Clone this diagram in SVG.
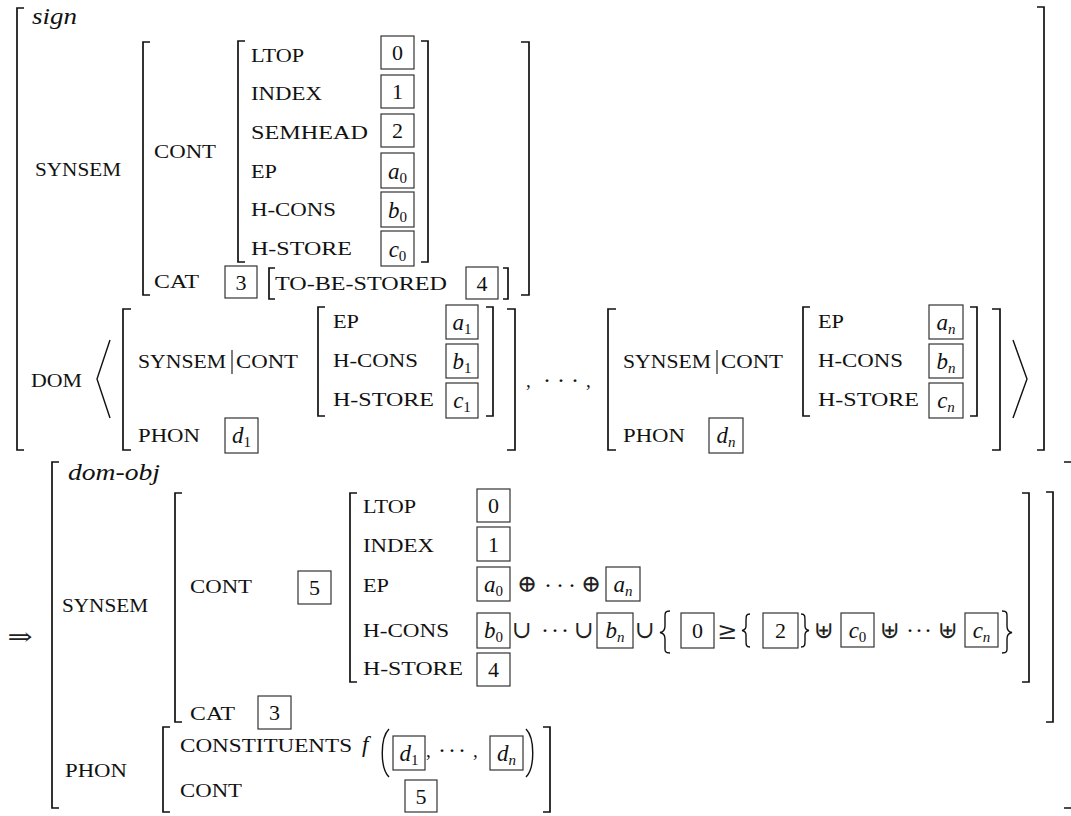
<svg xmlns="http://www.w3.org/2000/svg" width="1071" height="816" viewBox="0 0 1071 816" font-family="'Liberation Serif','Times New Roman','DejaVu Serif',serif">
<style>
.br{fill:none;stroke:#111;stroke-width:1.7}
.dl{fill:none;stroke:#111;stroke-width:1.4}
.bx{fill:none;stroke:#333;stroke-width:1.2}
.lb{font-family:'Liberation Serif','Times New Roman','DejaVu Serif',serif;font-size:19px;fill:#111}
.nm{font-family:'Liberation Serif','Times New Roman','DejaVu Serif',serif;font-size:22px;fill:#111;text-anchor:middle}
.vr{font-family:'Liberation Serif','Times New Roman','DejaVu Serif',serif;font-size:23px;font-style:italic;fill:#111;text-anchor:middle}
.sb{font-size:15px;font-style:normal}
.sbi{font-size:15px;font-style:italic}
.it{font-family:'Liberation Serif','Times New Roman','DejaVu Serif',serif;font-size:23px;font-style:italic;fill:#111}
.op{font-family:'DejaVu Serif','DejaVu Sans',serif;font-size:24px;fill:#222;text-anchor:middle}
.dt{font-family:'Liberation Serif','Times New Roman',serif;font-size:24px;fill:#111;text-anchor:middle}
</style>
<rect width="1071" height="816" fill="#fff"/>

<g id="top-avm">
  <path class="br" d="M24 8H17V450H24"/>
  <path class="br" d="M1037 7H1044V450H1037"/>
  <text class="it" x="32" y="24" textLength="45" lengthAdjust="spacingAndGlyphs">sign</text>
  <text class="lb" x="35" y="176" textLength="86" lengthAdjust="spacingAndGlyphs">SYNSEM</text>

  <g id="top-synsem">
    <path class="br" d="M150 42H143V295H150"/>
    <path class="br" d="M521 42H529V295H521"/>
    <text class="lb" x="154" y="158" textLength="62" lengthAdjust="spacingAndGlyphs">CONT</text>
    <g id="top-cont">
      <path class="br" d="M245 41H238V262H245"/>
      <path class="br" d="M421 41H428V262H421"/>
      <text class="lb" x="251" y="62" textLength="53" lengthAdjust="spacingAndGlyphs">LTOP</text>
      <text class="lb" x="251" y="100" textLength="71" lengthAdjust="spacingAndGlyphs">INDEX</text>
      <text class="lb" x="251" y="139" textLength="117" lengthAdjust="spacingAndGlyphs">SEMHEAD</text>
      <text class="lb" x="251" y="178" textLength="26" lengthAdjust="spacingAndGlyphs">EP</text>
      <text class="lb" x="251" y="216" textLength="85" lengthAdjust="spacingAndGlyphs">H-CONS</text>
      <text class="lb" x="251" y="255" textLength="101" lengthAdjust="spacingAndGlyphs">H-STORE</text>
      <rect class="bx" x="381" y="36" width="33" height="33"/><text class="nm" x="397.5" y="60">0</text>
      <rect class="bx" x="381" y="75" width="33" height="33"/><text class="nm" x="397.5" y="99">1</text>
      <rect class="bx" x="381" y="114" width="33" height="33"/><text class="nm" x="397.5" y="138">2</text>
      <rect class="bx" x="381" y="153" width="33" height="35"/><text class="vr" x="397.5" y="179">a<tspan class="sb" dy="4">0</tspan></text>
      <rect class="bx" x="381" y="192" width="33" height="35"/><text class="vr" x="397.5" y="218">b<tspan class="sb" dy="4">0</tspan></text>
      <rect class="bx" x="381" y="231" width="33" height="35"/><text class="vr" x="397.5" y="257">c<tspan class="sb" dy="4">0</tspan></text>
    </g>
    <text class="lb" x="154" y="288" textLength="45" lengthAdjust="spacingAndGlyphs">CAT</text>
    <rect class="bx" x="225" y="266" width="32" height="32"/><text class="nm" x="241" y="289.5">3</text>
    <path class="br" d="M275 268H269V299H275"/>
    <text class="lb" x="275" y="290" textLength="172" lengthAdjust="spacingAndGlyphs">TO-BE-STORED</text>
    <rect class="bx" x="466" y="267" width="32" height="32"/><text class="nm" x="482" y="290.5">4</text>
    <path class="br" d="M503 268H508V299H503"/>
  </g>

  <text class="lb" x="31" y="387" textLength="51" lengthAdjust="spacingAndGlyphs">DOM</text>
  <path class="dl" d="M110 340L97 379L110 418"/>
  <g id="dom-item-1">
    <path class="br" d="M131 309H123V450H131"/>
    <path class="br" d="M507 309H515V450H507"/>
    <text class="lb" x="138" y="368" textLength="88" lengthAdjust="spacingAndGlyphs">SYNSEM</text>
    <line x1="232" y1="350" x2="232" y2="374" stroke="#111" stroke-width="1.1"/>
    <text class="lb" x="236" y="368" textLength="62" lengthAdjust="spacingAndGlyphs">CONT</text>
    <path class="br" d="M325 307H318V416H325"/>
    <path class="br" d="M486 307H493V416H486"/>
    <text class="lb" x="333" y="328" textLength="26" lengthAdjust="spacingAndGlyphs">EP</text>
    <text class="lb" x="333" y="367" textLength="85" lengthAdjust="spacingAndGlyphs">H-CONS</text>
    <text class="lb" x="333" y="406" textLength="101" lengthAdjust="spacingAndGlyphs">H-STORE</text>
    <rect class="bx" x="446" y="305" width="32" height="34"/><text class="vr" x="462" y="330">a<tspan class="sb" dy="4">1</tspan></text>
    <rect class="bx" x="446" y="344" width="32" height="34"/><text class="vr" x="462" y="369">b<tspan class="sb" dy="4">1</tspan></text>
    <rect class="bx" x="446" y="383" width="32" height="35"/><text class="vr" x="462" y="408">c<tspan class="sb" dy="4">1</tspan></text>
    <text class="lb" x="138" y="442" textLength="62" lengthAdjust="spacingAndGlyphs">PHON</text>
    <rect class="bx" x="225" y="418" width="33" height="35"/><text class="vr" x="241.5" y="443">d<tspan class="sb" dy="4">1</tspan></text>
  </g>
  <text class="lb" x="526" y="387">,</text>
  <text class="dt" x="561" y="388" textLength="36" lengthAdjust="spacing">· · ·</text>
  <text class="lb" x="586" y="387">,</text>
  <g id="dom-item-n">
    <path class="br" d="M616 309H608V450H616"/>
    <path class="br" d="M992 309H1000V450H992"/>
    <text class="lb" x="623" y="368" textLength="88" lengthAdjust="spacingAndGlyphs">SYNSEM</text>
    <line x1="717" y1="350" x2="717" y2="374" stroke="#111" stroke-width="1.1"/>
    <text class="lb" x="721" y="368" textLength="62" lengthAdjust="spacingAndGlyphs">CONT</text>
    <path class="br" d="M810 307H803V416H810"/>
    <path class="br" d="M970 307H977V416H970"/>
    <text class="lb" x="818" y="328" textLength="26" lengthAdjust="spacingAndGlyphs">EP</text>
    <text class="lb" x="818" y="367" textLength="85" lengthAdjust="spacingAndGlyphs">H-CONS</text>
    <text class="lb" x="818" y="406" textLength="101" lengthAdjust="spacingAndGlyphs">H-STORE</text>
    <rect class="bx" x="929" y="305" width="34" height="34"/><text class="vr" x="946" y="330">a<tspan class="sbi" dy="4">n</tspan></text>
    <rect class="bx" x="929" y="344" width="34" height="34"/><text class="vr" x="946" y="369">b<tspan class="sbi" dy="4">n</tspan></text>
    <rect class="bx" x="929" y="383" width="34" height="35"/><text class="vr" x="946" y="408">c<tspan class="sbi" dy="4">n</tspan></text>
    <text class="lb" x="623" y="442" textLength="62" lengthAdjust="spacingAndGlyphs">PHON</text>
    <rect class="bx" x="709" y="418" width="34" height="35"/><text class="vr" x="726" y="443">d<tspan class="sbi" dy="4">n</tspan></text>
  </g>
  <path class="dl" d="M1013 340L1027 379L1013 418"/>
</g>

<text class="op" x="20" y="645" textLength="25" lengthAdjust="spacingAndGlyphs">⇒</text>

<g id="bottom-avm">
  <path class="br" d="M59 462H52V808H59"/>
  <path class="br" d="M1064 462H1072V808H1064"/>
  <text class="it" x="68" y="480" textLength="92" lengthAdjust="spacingAndGlyphs">dom-obj</text>
  <text class="lb" x="62" y="612" textLength="86" lengthAdjust="spacingAndGlyphs">SYNSEM</text>
  <g id="bottom-synsem">
    <path class="br" d="M182 493H175V722H182"/>
    <path class="br" d="M1046 492H1053V722H1046"/>
    <text class="lb" x="190" y="593" textLength="62" lengthAdjust="spacingAndGlyphs">CONT</text>
    <rect class="bx" x="298" y="571" width="33" height="33"/><text class="nm" x="314.5" y="595">5</text>
    <g id="bottom-cont">
      <path class="br" d="M357 493H350V682H357"/>
      <path class="br" d="M1022 493H1029V682H1022"/>
      <text class="lb" x="363" y="513" textLength="53" lengthAdjust="spacingAndGlyphs">LTOP</text>
      <text class="lb" x="363" y="552" textLength="71" lengthAdjust="spacingAndGlyphs">INDEX</text>
      <text class="lb" x="363" y="592" textLength="26" lengthAdjust="spacingAndGlyphs">EP</text>
      <text class="lb" x="363" y="637" textLength="86" lengthAdjust="spacingAndGlyphs">H-CONS</text>
      <text class="lb" x="363" y="675" textLength="100" lengthAdjust="spacingAndGlyphs">H-STORE</text>
      <rect class="bx" x="477" y="489" width="33" height="33"/><text class="nm" x="493.5" y="513">0</text>
      <rect class="bx" x="477" y="527" width="33" height="34"/><text class="nm" x="493.5" y="551.5">1</text>
      <rect class="bx" x="477" y="567" width="33" height="34"/><text class="vr" x="493.5" y="592">a<tspan class="sb" dy="4">0</tspan></text>
      <text class="op" x="527" y="592">⊕</text>
      <text class="dt" x="560" y="593" textLength="32" lengthAdjust="spacing">· · ·</text>
      <text class="op" x="591" y="592">⊕</text>
      <rect class="bx" x="606" y="567" width="34" height="34"/><text class="vr" x="623" y="592">a<tspan class="sbi" dy="4">n</tspan></text>
      <rect class="bx" x="477" y="613" width="33" height="35"/><text class="vr" x="493.5" y="638">b<tspan class="sb" dy="4">0</tspan></text>
      <text class="op" x="522" y="638">∪</text>
      <text class="dt" x="555" y="638" textLength="28" lengthAdjust="spacing">· · ·</text>
      <text class="op" x="584" y="638">∪</text>
      <rect class="bx" x="597" y="613" width="36" height="35"/><text class="vr" x="615" y="638">b<tspan class="sbi" dy="4">n</tspan></text>
      <text class="op" x="645" y="638">∪</text>
      <path class="dl" d="M670 611C664 611 665 614 665 620V626C665 630 663 632 660 632.5C663 633 665 635 665 639V645C665 651 664 653 670 653"/>
      <rect class="bx" x="681" y="613" width="33" height="35"/><text class="nm" x="697.5" y="638">0</text>
      <text class="op" x="727" y="639">≥</text>
      <path class="dl" d="M750 614C746 614 746 616 746 621V626C746 629 745 630 742 630.5C745 631 746 632 746 635V640C746 645 746 647 750 647"/>
      <rect class="bx" x="763" y="613" width="35" height="35"/><text class="nm" x="780.5" y="638">2</text>
      <path class="dl" d="M801 614C805 614 805 616 805 621V626C805 629 806 630 809 630.5C806 631 805 632 805 635V640C805 645 805 647 801 647"/>
      <text class="op" x="824" y="638">⊎</text>
      <rect class="bx" x="841" y="613" width="33" height="34"/><text class="vr" x="857.5" y="638">c<tspan class="sb" dy="4">0</tspan></text>
      <text class="op" x="890" y="638">⊎</text>
      <text class="dt" x="919" y="638" textLength="26" lengthAdjust="spacing">· · ·</text>
      <text class="op" x="948" y="638">⊎</text>
      <rect class="bx" x="965" y="613" width="33" height="34"/><text class="vr" x="981.5" y="638">c<tspan class="sbi" dy="4">n</tspan></text>
      <path class="dl" d="M1002 611C1008 611 1007 614 1007 620V626C1007 630 1009 632 1012 632.5C1009 633 1007 635 1007 639V645C1007 651 1008 653 1002 653"/>
      <rect class="bx" x="477" y="653" width="33" height="33"/><text class="nm" x="493.5" y="677">4</text>
    </g>
    <text class="lb" x="190" y="720" textLength="45" lengthAdjust="spacingAndGlyphs">CAT</text>
    <rect class="bx" x="258" y="696" width="33" height="33"/><text class="nm" x="274.5" y="720">3</text>
  </g>
  <text class="lb" x="65" y="777" textLength="62" lengthAdjust="spacingAndGlyphs">PHON</text>
  <g id="bottom-phon">
    <path class="br" d="M170 727H163V812H170"/>
    <path class="br" d="M543 727H550V812H543"/>
    <text class="lb" x="180" y="752" textLength="172" lengthAdjust="spacingAndGlyphs">CONSTITUENTS</text>
    <text class="it" x="362" y="752">f</text>
    <path class="dl" d="M389 729C380 738 380 768 389 777"/>
    <rect class="bx" x="393" y="736" width="32" height="34"/><text class="vr" x="409" y="761">d<tspan class="sb" dy="4">1</tspan></text>
    <text class="lb" x="426" y="757">,</text>
    <text class="dt" x="452" y="758" textLength="28" lengthAdjust="spacing">· · ·</text>
    <text class="lb" x="473" y="757">,</text>
    <rect class="bx" x="490" y="736" width="33" height="34"/><text class="vr" x="506.5" y="761">d<tspan class="sbi" dy="4">n</tspan></text>
    <path class="dl" d="M526 729C535 738 535 768 526 777"/>
    <text class="lb" x="180" y="797" textLength="62" lengthAdjust="spacingAndGlyphs">CONT</text>
    <rect class="bx" x="405" y="780" width="32" height="32"/><text class="nm" x="421" y="804">5</text>
  </g>
</g>
</svg>
